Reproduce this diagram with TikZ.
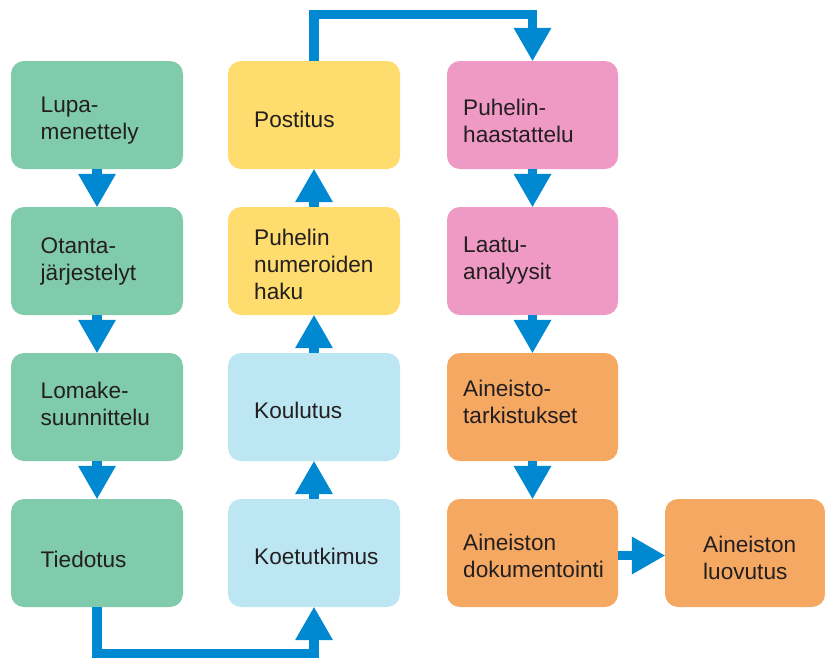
\documentclass[tikz,border=0pt]{standalone}
\usepackage{fontspec}
\setmainfont{Liberation Sans}
\definecolor{cgreen}{HTML}{80CBAC}
\definecolor{cyellow}{HTML}{FEDC6D}
\definecolor{clblue}{HTML}{BDE6F3}
\definecolor{cpink}{HTML}{EF9AC4}
\definecolor{corange}{HTML}{F5A862}
\definecolor{cblue}{HTML}{0088D1}
\definecolor{ctext}{HTML}{231F20}
\newcommand\ml[1]{\vtop{\halign{##\hfil\cr#1\crcr}}}
\newcommand\darrow[2]{\draw[shaft] (#1.south) -- ([yshift=20pt]#2.north);
  \fill[tip] (#2.north) -- ++(-19,-33) -- ++(38,0) -- cycle;}
\newcommand\uarrow[2]{\draw[shaft] (#1.north) -- ([yshift=-20pt]#2.south);
  \fill[tip] (#2.south) -- ++(-19,33) -- ++(38,0) -- cycle;}
\begin{document}
\begin{tikzpicture}[x=1pt,y=-1pt,
  box/.style={rounded corners=13pt, minimum width=172pt, minimum height=108pt, inner sep=0pt, draw=none},
  txt/.style={anchor=base west, inner sep=0pt, text=ctext, font=\fontsize{22.6}{27}\selectfont},
  shaft/.style={draw=cblue, line width=9.5pt, line join=miter},
  tip/.style={fill=cblue}]
\useasboundingbox (0,0) rectangle (825,657);
% column 1
\node[box, fill=cgreen] (a1) at (97,115) {};
\node[box, fill=cgreen] (a2) at (97,261) {};
\node[box, fill=cgreen] (a3) at (97,407) {};
\node[box, fill=cgreen] (a4) at (97,553) {};
% column 2
\node[box, fill=cyellow] (b1) at (314,115) {};
\node[box, fill=cyellow] (b2) at (314,261) {};
\node[box, fill=clblue] (b3) at (314,407) {};
\node[box, fill=clblue] (b4) at (314,553) {};
% column 3
\node[box, fill=cpink, minimum width=171pt] (c1) at (532.5,115) {};
\node[box, fill=cpink, minimum width=171pt] (c2) at (532.5,261) {};
\node[box, fill=corange, minimum width=171pt] (c3) at (532.5,407) {};
\node[box, fill=corange, minimum width=171pt] (c4) at (532.5,553) {};
% column 4
\node[box, fill=corange, minimum width=160pt] (d4) at (745,553) {};
% texts
\node[txt] (ta1) at (40.5,112) {\ml{Lupa-\cr menettely}};
\node[txt] (ta2) at (40.5,253) {\ml{Otanta-\cr järjestelyt}};
\node[txt] (ta3) at (40.5,398) {\ml{Lomake-\cr suunnittelu}};
\node[txt] (ta4) at (40.5,567) {Tiedotus};
\node[txt] (tb1) at (254,127) {Postitus};
\node[txt] (tb2) at (254,245) {\ml{Puhelin\cr numeroiden\cr haku}};
\node[txt] (tb3) at (254,418) {Koulutus};
\node[txt] (tb4) at (254,564) {Koetutkimus};
\node[txt] (tc1) at (463,115) {\ml{Puhelin-\cr haastattelu}};
\node[txt] (tc2) at (463,252) {\ml{Laatu-\cr analyysit}};
\node[txt] (tc3) at (463,396) {\ml{Aineisto-\cr tarkistukset}};
\node[txt] (tc4) at (463,550) {\ml{Aineiston\cr dokumentointi}};
\node[txt] (td4) at (703,552) {\ml{Aineiston\cr luovutus}};
% arrows
\darrow{a1}{a2}
\darrow{a2}{a3}
\darrow{a3}{a4}
\uarrow{b4}{b3}
\uarrow{b3}{b2}
\uarrow{b2}{b1}
\darrow{c1}{c2}
\darrow{c2}{c3}
\darrow{c3}{c4}
\draw[shaft] (a4.south) -- ++(0,46.5) -| ([yshift=-20pt]b4.south);
\fill[tip] (b4.south) -- ++(-19,33) -- ++(38,0) -- cycle;
\draw[shaft] (b1.north) -- ++(0,-46.5) -| ([yshift=20pt]c1.north);
\fill[tip] (c1.north) -- ++(-19,-33) -- ++(38,0) -- cycle;
\draw[shaft] ([yshift=-2.5pt]c4.east) -- ([xshift=-20pt,yshift=-2.5pt]d4.west);
\fill[tip] ([yshift=-2.5pt]d4.west) -- ++(-33,-19) -- ++(0,38) -- cycle;
\end{tikzpicture}
\end{document}
